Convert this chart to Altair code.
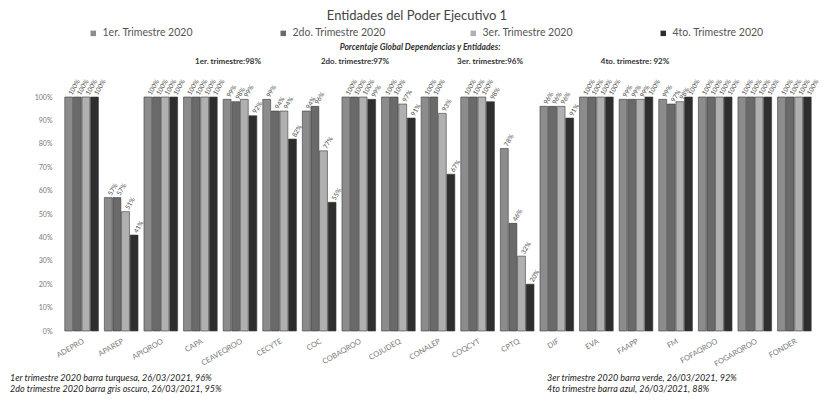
import altair as alt
import pandas as pd

categories = ["ADEPRO", "APAREP", "APIQROO", "CAPA", "CEAVEQROO", "CECYTE", "COC",
              "COBAQROO", "COJUDEQ", "CONALEP", "COQCYT", "CPTQ", "DIF", "EVA",
              "FAAPP", "FM", "FOFAQROO", "FOGARQROO", "FONDER"]
series = ["1er. Trimestre 2020", "2do. Trimestre 2020", "3er. Trimestre 2020", "4to. Trimestre 2020"]
t1 = [100, 57, 100, 100, 99, 99, 94, 100, 100, 100, 100, 78, 96, 100, 99, 99, 100, 100, 100]
t2 = [100, 57, 100, 100, 98, 94, 96, 100, 100, 100, 100, 46, 96, 100, 99, 97, 100, 100, 100]
t3 = [100, 51, 100, 100, 99, 94, 77, 100, 97, 93, 100, 32, 96, 100, 99, 98, 100, 100, 100]
t4 = [100, 41, 100, 100, 92, 82, 55, 99, 91, 67, 98, 20, 91, 100, 100, 100, 100, 100, 100]
ytick_values = [0, 10, 20, 30, 40, 50, 60, 70, 80, 90, 100]
colors = ["#8c8c8c", "#6a6a6a", "#b0b0b0", "#2e2e2e"]

title_text = "Entidades del Poder Ejecutivo 1"
global_head = "Porcentaje Global Dependencias y Entidades:"
global_items = ["1er. trimestre:98%", "2do. trimestre:97%", "3er. trimestre:96%", "4to. trimestre: 92%"]
footer_left = ["1er trimestre  2020 barra turquesa,  26/03/2021, 96%",
               "2do trimestre 2020 barra gris oscuro,  26/03/2021,  95%"]
footer_right = ["3er trimestre 2020 barra verde,  26/03/2021,  92%",
                "4to trimestre barra azul, 26/03/2021, 88%"]

rows = []
for s, vals in zip(series, [t1, t2, t3, t4]):
    for c, v in zip(categories, vals):
        rows.append({"cat": c, "series": s, "value": v, "label": f"{v}%"})
df = pd.DataFrame(rows)

FONT = "Lato"

x_enc = alt.X("cat:N", sort=categories, title=None,
              scale=alt.Scale(paddingInner=0.15, paddingOuter=0.07),
              axis=alt.Axis(labelAngle=-30, labelAlign="right", labelBaseline="top",
                            labelFontSize=7.5, labelColor="#777", labelFont=FONT,
                            ticks=False, domain=False, labelPadding=6))
xoff = alt.XOffset("series:N", sort=series, scale=alt.Scale(paddingInner=0.08))
y_enc = alt.Y("value:Q", title=None,
              scale=alt.Scale(domain=[0, 100], nice=False),
              axis=alt.Axis(values=ytick_values, labelExpr="datum.value + '%'",
                            labelOverlap=False, tickCount=20,
                            labelFontSize=7, labelColor="#777", labelFont=FONT,
                            grid=False, ticks=False, domain=False, labelPadding=10))

bars = alt.Chart(df).mark_bar(stroke="#3a3a3a", strokeWidth=0.6).encode(
    x=x_enc, xOffset=xoff, y=y_enc,
    color=alt.Color("series:N", sort=series,
                    scale=alt.Scale(domain=series, range=colors),
                    legend=alt.Legend(title=None, orient="none", direction="horizontal",
                                      legendX=26, legendY=-69, columns=4,
                                      gridAlign="all",
                                      columnPadding=82, symbolType="square",
                                      symbolSize=30, labelFontSize=10.5,
                                      labelColor="#555", labelFont=FONT,
                                      symbolStrokeWidth=0))
)

labels = alt.Chart(df).mark_text(angle=300, align="left", baseline="middle", dx=3,
                                 fontSize=6.5, color="#4a4a4a", font=FONT).encode(
    x=x_enc, xOffset=xoff, y=y_enc, text="label:N"
)

one = alt.Data(values=[{}])

def txt(text, x, y, size, font=FONT, **kw):
    return alt.Chart(one).mark_text(fontSize=size, font=font, **kw).encode(
        x=alt.value(x), y=alt.value(y), text=alt.value(text))

layers = [bars, labels,
          txt(title_text, 355, -81, 13, color="#444"),
          txt(global_head, 358, -50, 8.5, fontStyle="italic", fontWeight="bold", color="#333")]
for t, xp in zip(global_items, [166, 293, 428, 573]):
    layers.append(txt(t, xp, -35, 8, fontWeight="bold", color="#333"))
for i, t in enumerate(footer_left):
    layers.append(txt(t, -52, 281 + 11 * i, 9, align="left", fontStyle="italic", color="#222"))
for i, t in enumerate(footer_right):
    layers.append(txt(t, 485, 281 + 11 * i, 9, align="left", fontStyle="italic", color="#222"))

chart = alt.layer(*layers).properties(
    width=752, height=234, autosize="none",
    padding={"left": 54, "top": 89, "right": 5, "bottom": 65},
    background="white"
).configure_view(stroke=None)

chart.save("out.html", embed_options={"renderer": "svg", "actions": False})
